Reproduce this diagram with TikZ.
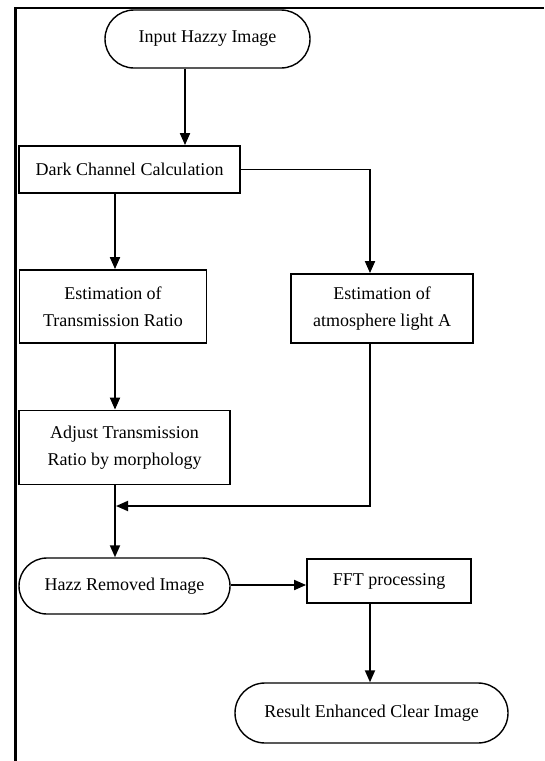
\documentclass[tikz,border=0pt]{standalone}
\usepackage{fontspec}
\setmainfont{Liberation Serif}
\usetikzlibrary{arrows.meta,shapes.misc}
\begin{document}
\begin{tikzpicture}[x=1pt,y=-1pt,
  every node/.style={font=\fontsize{18}{27}\selectfont, align=center, inner sep=0pt},
  procbox/.style={draw, line width=1.8pt, rectangle},
  termbox/.style={draw, line width=1.4pt, rounded rectangle},
  arr/.style={line width=1.8pt, -{Triangle[width=10pt,length=12pt]}},
  ln/.style={line width=1.8pt}]
\useasboundingbox (0,0) rectangle (544,761);
\fill[white] (0,0) rectangle (544,761);
\draw[line width=3pt] (15,761) -- (15,8);
\draw[line width=2pt] (14,8) -- (544,8);

\node[termbox, minimum width=205pt, minimum height=58pt] (inp) at (207.5,39) {Input Hazzy Image};
\node[procbox, minimum width=221pt, minimum height=47pt] (dark) at (129.5,169.5) {Dark Channel Calculation};
\node[procbox, minimum width=187pt, minimum height=73pt] (etr) at (113,306.5) {Estimation of\\Transmission Ratio};
\node[procbox, minimum width=182pt, minimum height=69pt] (eal) at (382,308.5) {Estimation of\\atmosphere light A};
\node[procbox, minimum width=211pt, minimum height=74pt] (adj) at (124.5,447.5) {Adjust Transmission\\Ratio by morphology};
\node[termbox, minimum width=211pt, minimum height=56pt] (hri) at (124.5,586) {Hazz Removed Image};
\node[procbox, minimum width=164pt, minimum height=44pt] (fft) at (389,581) {FFT processing};
\node[termbox, minimum width=273pt, minimum height=60pt] (res) at (371.5,713) {Result Enhanced Clear Image};

\coordinate (m) at (115,506);

\draw[arr] ([xshift=-22.5pt]inp.south) -- ([xshift=-22.5pt]inp.south |- dark.north);
\draw[arr] (dark.east) -| ([xshift=-12pt]eal.north);
\draw[arr] ([xshift=2pt]etr.north |- dark.south) -- ([xshift=2pt]etr.north);
\draw[arr] ([xshift=2pt]etr.south) -- ([xshift=2pt]etr.south |- adj.north);
\draw[ln] ([xshift=-9.5pt]adj.south) -- ([xshift=-9.5pt]adj.south |- m);
\draw[arr] (m) -- ([xshift=-9.5pt]hri.north);
\draw[arr] ([xshift=-12pt]eal.south) |- ([xshift=1pt]m);
\draw[arr] ([yshift=1pt]hri.east) -- ([yshift=1pt]hri.east -| fft.west);
\draw[arr] ([xshift=-19pt]fft.south) -- ([xshift=-19pt]fft.south |- res.north);
\end{tikzpicture}
\end{document}
